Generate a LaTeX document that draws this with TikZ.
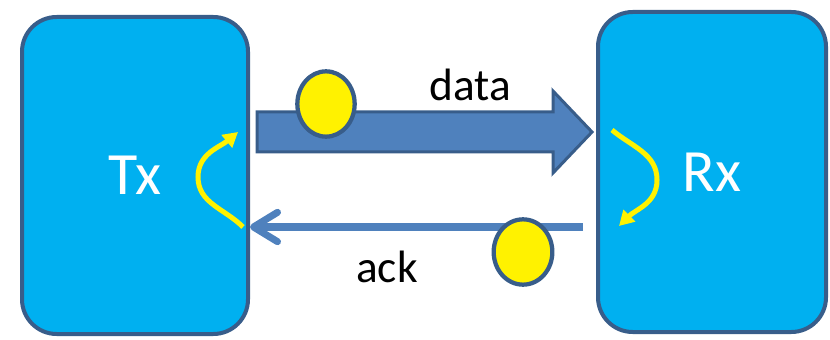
\documentclass[tikz,border=0pt]{standalone}
\usepackage{fontspec}
\setmainfont{Carlito}
\usetikzlibrary{arrows.meta,shapes.geometric}

\definecolor{boxfill}{HTML}{00B0F0}
\definecolor{boxline}{HTML}{385D8A}
\definecolor{arrowfill}{HTML}{4F81BD}

\begin{document}
\begin{tikzpicture}[x=0.75pt,y=0.75pt]
    \tikzstyle{box}=[rectangle,rounded corners=26pt,draw=boxline,fill=boxfill,line width=3pt,text=white,font=\fontsize{45}{50}\selectfont]
    \tikzstyle{token}=[ellipse,draw=boxline,fill=yellow,line width=3.2pt,minimum width=43pt,minimum height=49pt,inner sep=0pt]
    \tikzstyle{label}=[font=\fontsize{34}{40}\selectfont]
    \tikzstyle{turn}=[draw=yellow,line width=3.75pt,-{Triangle[length=11pt,width=12pt]}]

    \useasboundingbox (0,0) rectangle (830,339);

    % transmitter and receiver
    \node[box,minimum width=169.5pt,minimum height=237.75pt](tx) at (135,163.5){Tx};
    \node[box,minimum width=171pt,minimum height=240pt](rx) at (712,167){Rx};

    % data goes over the wide arrow
    \draw[draw=boxline,fill=arrowfill,line width=2.25pt,line join=miter]
      (257,227) -- (553,227) -- (553,248) -- (592,207) -- (553,166) -- (553,187) -- (257,187) -- cycle;
    \node[token](dtok) at (326,235){};
    \node[label](dlabel) at (470,254){data};

    % ack comes back on the thin one
    \coordinate (ackstart) at (583,112);
    \draw[draw=arrowfill,line width=5.25pt,-{Straight Barb[length=18pt,width=22pt,round]}]
      (ackstart) -- (ackstart -| tx.east);
    \node[token,minimum width=44pt](atok) at (523,87){};
    \node[label](alabel) at (387,72){ack};

    % turn-around inside each box
    \draw[turn] (243,112) to[out=135,in=-90] (198,162) to[out=90,in=220] (238,207);
    \draw[turn] (612,209) to[out=-40,in=90] (657,159) to[out=-90,in=45] (619,113);
\end{tikzpicture}
\end{document}
